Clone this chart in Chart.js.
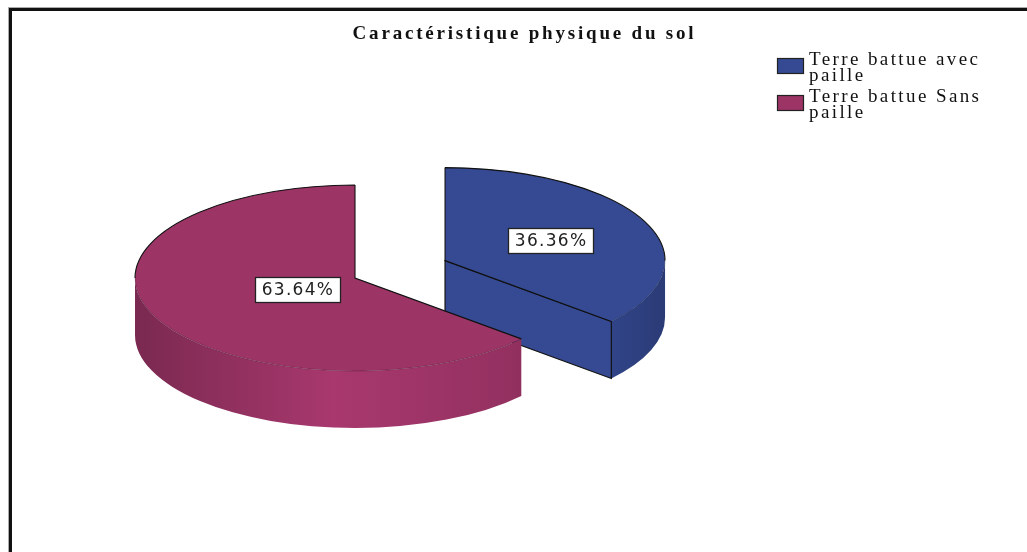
<!DOCTYPE html>
<html>
<head>
<meta charset="utf-8">
<script src="https://cdn.jsdelivr.net/npm/chart.js@4.4.1/dist/chart.umd.min.js"></script>
<style>
  html, body { margin: 0; padding: 0; background: #fff; overflow: hidden; }
  #frame {
    position: absolute; left: 9px; top: 8px; width: 1040px; height: 560px;
    border-left: 3px solid #111; border-top: 3px solid #111;
    box-shadow: -1px -1px 0 #aaa;
  }
  canvas { position: absolute; left: 0; top: 0; }
</style>
</head>
<body>
<div id="frame"></div>
<canvas id="pieChart" width="1027" height="552"></canvas>
<script>
let labels = ['Terre battue avec paille', 'Terre battue Sans paille'];
let percents = [36.36, 63.64];
let colorHex = ['#354a93', '#9c3466'];

// 3d look: where the pie sits, how flat it is, how thick
const PIE_X = 355, PIE_Y = 278, TILT = 93 / 220, DEPTH = 57;
const explode = [99, 0];
const labelRadius = [0.525, 0.29];

function shade(hex, f) {
  let n = parseInt(hex.slice(1), 16);
  let c = [n >> 16, (n >> 8) & 255, n & 255].map(v => Math.min(255, Math.round(v * f)));
  return 'rgb(' + c.join(',') + ')';
}

function pieCenter(chart) {
  let a = chart.chartArea;
  return { cx: (a.left + a.right) / 2, cy: (a.top + a.bottom) / 2 };
}

function tilt(chart) {
  let ctx = chart.ctx, c = pieCenter(chart);
  ctx.translate(PIE_X, PIE_Y);
  ctx.scale(1, TILT);
  ctx.translate(-c.cx, -c.cy);
}

function strokeFlat(ctx, chart, color, width) {
  let dpr = chart.currentDevicePixelRatio || 1;
  ctx.save();
  ctx.setTransform(dpr, 0, 0, dpr, 0, 0);
  ctx.strokeStyle = color;
  ctx.lineWidth = width;
  ctx.stroke();
  ctx.restore();
}

let pie3d = {
  id: 'pie3d',
  afterDatasetsUpdate(chart) {
    chart.getDatasetMeta(0).data.forEach((arc, i) => {
      let d = explode[i] || 0;
      if (!d) return;
      let mid = (arc.startAngle + arc.endAngle) / 2;
      arc.x += Math.cos(mid) * d;
      arc.y += Math.sin(mid) * d;
    });
  },
  beforeDraw(chart) {
    chart.ctx.letterSpacing = '2.8px';
  },
  beforeDatasetsDraw(chart) {
    let ctx = chart.ctx;
    ctx.letterSpacing = '0px';
    ctx.save();
    tilt(chart);
    let dz = DEPTH / TILT;
    chart.getDatasetMeta(0).data.forEach((arc, i) => {
      let { x, y, startAngle: a0, endAngle: a1, outerRadius: r } = arc;
      let base = colorHex[i];
      let a = Math.max(a0, 0), b = Math.min(a1, Math.PI);
      if (b > a) {
        let g = ctx.createLinearGradient(x - r, 0, x + r, 0);
        g.addColorStop(0, shade(base, 0.78));
        g.addColorStop(0.45, shade(base, 1.08));
        g.addColorStop(0.85, shade(base, 0.95));
        g.addColorStop(1, shade(base, 0.8));
        ctx.beginPath();
        ctx.arc(x, y, r, a, b);
        ctx.lineTo(x + r * Math.cos(b), y + dz + r * Math.sin(b));
        ctx.arc(x, y + dz, r, b, a, true);
        ctx.closePath();
        ctx.fillStyle = g;
        ctx.fill();
      }
      // cut face on the clockwise side, seen only when it turns toward us
      if (explode[i] && Math.cos(a1) > 0.01) {
        let ex = x + r * Math.cos(a1), ey = y + r * Math.sin(a1);
        ctx.beginPath();
        ctx.moveTo(x, y);
        ctx.lineTo(ex, ey);
        ctx.lineTo(ex, ey + dz);
        ctx.lineTo(x, y + dz);
        ctx.closePath();
        ctx.fillStyle = base;
        ctx.fill();
        strokeFlat(ctx, chart, '#111', 1.2);
      }
    });
  },
  afterDatasetsDraw(chart) {
    let ctx = chart.ctx;
    ctx.restore();
    let arcs = chart.getDatasetMeta(0).data;
    arcs.forEach(arc => {
      let { x, y, startAngle: a0, endAngle: a1, outerRadius: r } = arc;
      // front rim, soft
      let a = Math.max(a0, 0), b = Math.min(a1, Math.PI);
      if (b > a) {
        ctx.save(); tilt(chart);
        ctx.beginPath();
        ctx.arc(x, y, r, a, b);
        ctx.restore();
        strokeFlat(ctx, chart, 'rgba(0,0,0,0.22)', 1);
      }
      // back rim and the two radii, dark
      ctx.save(); tilt(chart);
      ctx.beginPath();
      let s = Math.max(a0, Math.PI), e = a1;
      if (a0 < 0) { s = a0; e = Math.min(a1, 0); }
      ctx.moveTo(x + r * Math.cos(a1), y + r * Math.sin(a1));
      ctx.lineTo(x, y);
      ctx.lineTo(x + r * Math.cos(a0), y + r * Math.sin(a0));
      ctx.moveTo(x + r * Math.cos(s), y + r * Math.sin(s));
      ctx.arc(x, y, r, s, e);
      ctx.restore();
      strokeFlat(ctx, chart, '#111', 1.1);
    });

    // value boxes
    let c = pieCenter(chart);
    ctx.save();
    ctx.font = '17px "DejaVu Sans"';
    ctx.letterSpacing = '1.3px';
    ctx.textAlign = 'center';
    ctx.textBaseline = 'middle';
    arcs.forEach((arc, i) => {
      let mid = (arc.startAngle + arc.endAngle) / 2;
      let f = labelRadius[i] * arc.outerRadius;
      let px = arc.x + Math.cos(mid) * f, py = arc.y + Math.sin(mid) * f;
      let X = PIE_X + (px - c.cx), Y = PIE_Y + (py - c.cy) * TILT;
      let txt = percents[i].toFixed(2) + '%';
      let w = ctx.measureText(txt).width + 12, h = 25;
      ctx.fillStyle = '#fff';
      ctx.fillRect(Math.round(X - w / 2) + 0.5, Math.round(Y - h / 2) + 0.5, Math.round(w), h);
      ctx.strokeStyle = '#222';
      ctx.lineWidth = 1.3;
      ctx.strokeRect(Math.round(X - w / 2) + 0.5, Math.round(Y - h / 2) + 0.5, Math.round(w), h);
      ctx.fillStyle = '#222';
      ctx.fillText(txt, X + 1, Y + 1);
    });
    ctx.restore();
  },
  afterDraw(chart) {
    let ctx = chart.ctx;
    ctx.save();
    ctx.font = '19px "Liberation Serif"';
    ctx.letterSpacing = '2.4px';
    ctx.textBaseline = 'alphabetic';
    labels.forEach((lab, i) => {
      let top = 53 + i * 37;
      ctx.fillStyle = colorHex[i];
      ctx.fillRect(777, top + 5, 27, 16);
      ctx.strokeStyle = '#222';
      ctx.lineWidth = 1.2;
      ctx.strokeRect(777.5, top + 5.5, 26, 15);
      // wrap into lines that fit the legend column
      let lines = [], cur = '';
      lab.split(' ').forEach(word => {
        let t = cur ? cur + ' ' + word : word;
        if (ctx.measureText(t).width > 205 && cur) { lines.push(cur); cur = word; } else cur = t;
      });
      lines.push(cur);
      ctx.fillStyle = '#111';
      lines.forEach((ln, j) => ctx.fillText(ln, 809, top + 12 + j * 16));
    });
    ctx.restore();
  }
};

let ctx = document.getElementById('pieChart').getContext('2d');
let pieChart = new Chart(ctx, {
  type: 'pie',
  data: {
    labels: labels,
    datasets: [{
      data: percents,
      backgroundColor: colorHex,
      borderWidth: 0,
      clip: false
    }]
  },
  options: {
    responsive: false,
    animation: false,
    radius: 220,
    layout: { padding: { left: 22, right: 0, top: 0, bottom: 0 } },
    plugins: {
      legend: { display: false },
      tooltip: { enabled: false },
      title: {
        display: true,
        text: 'Caractéristique physique du sol',
        color: '#111',
        font: { family: '"Liberation Serif"', size: 19, weight: 'bold' },
        padding: { top: 23, bottom: 10 }
      }
    }
  },
  plugins: [pie3d]
});
</script>
</body>
</html>
